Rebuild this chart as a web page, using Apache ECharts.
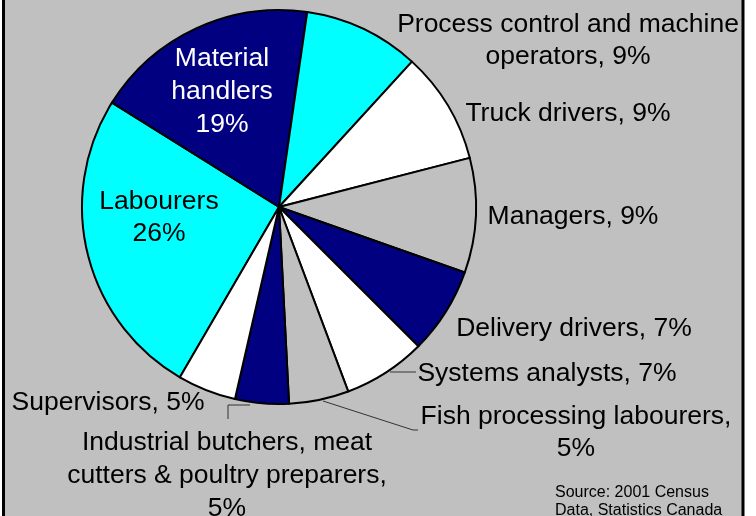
<!DOCTYPE html>
<html>
<head>
<meta charset="utf-8">
<script src="https://cdn.jsdelivr.net/npm/echarts@6/dist/echarts.min.js"></script>
<style>
html, body { margin: 0; padding: 0; background: #fff; }
#main { width: 756px; height: 516px; }
</style>
</head>
<body>
<div id="main"></div>
<script>
// occupations, largest first, going clockwise from lower left
var jobs = ['Labourers', 'Material\nhandlers', 'Process control and machine\noperators', 'Truck drivers', 'Managers',
    'Delivery drivers', 'Systems analysts', 'Fish processing labourers', 'Industrial butchers, meat\ncutters & poultry preparers', 'Supervisors'];
// slice sizes (unrounded %)
var shares = [25.5, 18.4, 9.5, 9.2, 9.4, 7.1, 6.8, 4.9, 4.4, 4.8];
// percentages as printed on the chart
var printed = [26, 19, 9, 9, 9, 7, 7, 5, 5, 5];
var seps = ['\n', '\n', ', ', ', ', ', ', ', ', ', ', ',\n', ',\n', ', '];
var colors = ['#00FFFF', '#000080', '#00FFFF', '#FFFFFF', '#C0C0C0', '#000080', '#FFFFFF', '#C0C0C0', '#000080', '#FFFFFF'];
var sourceText = 'Source: 2001 Census\nData, Statistics Canada';

// where each label sits (centre) and the few leader lines
var labelPos = [[159, 218], [222, 92], [568, 41], [568, 114], [573, 217], [574, 329], [547, 374], [576, 433], [227, 476], [108, 403]];
var leaders = {
    6: [[390, 372], [416, 372]],
    7: [[323, 401], [413, 430], [418, 430]],
    8: [[250, 405], [228, 405], [228, 419]]
};

var myChart = echarts.init(document.getElementById('main'));

var pieData = [];
for (var i = 0; i < jobs.length; i++) {
    pieData.push({
        name: jobs[i],
        value: shares[i],
        itemStyle: { color: colors[i] },
        label: {
            color: i == 1 ? '#fff' : '#000',
            lineHeight: (i == 1 || i == 8) ? 33 : 32
        },
        labelLine: { show: !!leaders[i] }
    });
}

var option = {
    backgroundColor: '#fff',
    animation: false,
    title: {
        text: sourceText,
        left: 555,
        top: 484,
        padding: 0,
        textStyle: {
            fontFamily: 'Liberation Sans',
            fontSize: 16,
            fontWeight: 'normal',
            lineHeight: 18,
            color: '#000'
        }
    },
    graphic: [{
        type: 'rect',
        z: -10,
        shape: { x: 3.5, y: -10, width: 739.5, height: 540 },
        style: { fill: '#C0C0C0', stroke: '#000', lineWidth: 3 }
    }],
    series: [{
        type: 'pie',
        center: [279, 207],
        radius: 197,
        startAngle: -120.2,
        clockwise: true,
        avoidLabelOverlap: false,
        emphasis: { disabled: true },
        itemStyle: { borderColor: '#000', borderWidth: 2 },
        label: {
            show: true,
            position: 'outside',
            fontFamily: 'Liberation Sans',
            fontSize: 26.5,
            formatter: function (p) {
                return p.name + seps[p.dataIndex] + printed[p.dataIndex] + '%';
            }
        },
        labelLine: {
            lineStyle: { color: '#333', width: 1 }
        },
        labelLayout: function (params) {
            var pos = labelPos[params.dataIndex];
            var res = { x: pos[0], y: pos[1], align: 'center', verticalAlign: 'middle' };
            if (leaders[params.dataIndex]) res.labelLinePoints = leaders[params.dataIndex];
            return res;
        },
        data: pieData
    }]
};
myChart.setOption(option);
</script>
</body>
</html>
